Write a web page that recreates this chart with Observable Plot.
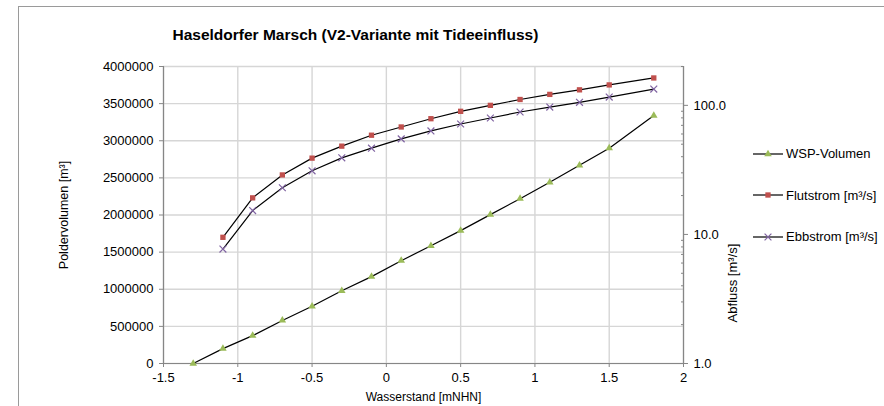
<!DOCTYPE html>
<html>
<head>
<meta charset="utf-8">
<script src="https://cdn.jsdelivr.net/npm/d3@7"></script>
<script src="https://cdn.jsdelivr.net/npm/@observablehq/plot@0.6"></script>
<style>
  html, body { margin: 0; padding: 0; background: #fff; overflow: hidden; }
  #wrap { position: relative; width: 884px; height: 406px; overflow: hidden; font-family: "Liberation Sans", Arial, sans-serif; }
  #wrap svg { position: absolute; left: 0; top: 0; }
  #border { position: absolute; left: 18px; top: 6px; width: 1000px; height: 1000px; border-left: 1.5px solid #9a9a9a; border-top: 1.5px solid #9a9a9a; }
  #legend { position: absolute; left: 753px; top: 133px; font-size: 13px; color: #000; }
  #legend .row { display: flex; align-items: center; height: 41.5px; }
  #legend .row svg { position: static; margin-right: 3px; }
</style>
</head>
<body>
<div id="wrap"><div id="border"></div></div>
<script>
// ---- data ----
const titleText = "Haseldorfer Marsch (V2-Variante mit Tideeinfluss)";
const xLabel = "Wasserstand [mNHN]";
const yLeftLabel = "Poldervolumen [m³]";
const yRightLabel = "Abfluss [m³/s]";

const xTicks = [-1.5, -1, -0.5, 0, 0.5, 1, 1.5, 2];
const yLeftTicks = [0, 500000, 1000000, 1500000, 2000000, 2500000, 3000000, 3500000, 4000000];
const yRightTicks = [1, 10, 100];
const yRightMinor = [2, 3, 4, 5, 6, 7, 8, 9, 20, 30, 40, 50, 60, 70, 80, 90, 200];

const wspX = [-1.3, -1.1, -0.9, -0.7, -0.5, -0.3, -0.1, 0.1, 0.3, 0.5, 0.7, 0.9, 1.1, 1.3, 1.5, 1.8];
const wspVolumen = [0, 200000, 375000, 580000, 770000, 980000, 1170000, 1385000, 1585000, 1790000, 2005000, 2220000, 2440000, 2670000, 2900000, 3340000];

const flowX = [-1.1, -0.9, -0.7, -0.5, -0.3, -0.1, 0.1, 0.3, 0.5, 0.7, 0.9, 1.1, 1.3, 1.5, 1.8];
const flutstrom = [9.5, 19.2, 28.9, 39.0, 48.3, 58.7, 68.0, 78.8, 89.9, 100, 111, 121.6, 131.9, 144, 163];
const ebbstrom = [7.7, 15.3, 23.0, 31.1, 39.2, 46.6, 55.0, 63.4, 71.7, 79.8, 88.8, 97.0, 105.5, 115.9, 133.6];

const seriesNames = ["WSP-Volumen", "Flutstrom [m³/s]", "Ebbstrom [m³/s]"];
const seriesColors = ["#9bbb59", "#c0504d", "#8064a2"];
const seriesSymbols = ["triangle", "square", "times"];

// ---- tables ----
const wspData = wspX.map((x, i) => ({x, y: wspVolumen[i]}));
const flutData = flowX.map((x, i) => ({x, y: flutstrom[i]}));
const ebbData = flowX.map((x, i) => ({x, y: ebbstrom[i]}));

const W = 884, H = 406;
const margins = {marginLeft: 163, marginRight: 201, marginTop: 66, marginBottom: 43};
const font = "'Liberation Sans', Arial, sans-serif";
const axisGray = "#868686";
const gridGray = "#d6d6d6";

const plotLeft = Plot.plot({
  width: W, height: H, ...margins,
  style: {fontFamily: font, fontSize: "13px", background: "transparent", color: "#000"},
  x: {domain: [-1.5, 2]},
  y: {domain: [0, 4000000]},
  marks: [
    Plot.gridX(xTicks, {stroke: gridGray, strokeOpacity: 1, strokeWidth: 1.4}),
    Plot.gridY(yLeftTicks, {stroke: gridGray, strokeOpacity: 1, strokeWidth: 1.4}),
    Plot.axisX(xTicks, {tickSize: 4, tickPadding: 5, stroke: axisGray, tickFormat: d => String(d), label: null}),
    Plot.axisX({label: xLabel, labelAnchor: "center", labelOffset: 37, labelArrow: "none", ticks: [], fontSize: 12}),
    Plot.axisY(yLeftTicks, {tickSize: 4, tickPadding: 6, stroke: axisGray, tickFormat: d => String(d), label: null}),
    Plot.axisY({label: yLeftLabel, labelAnchor: "center", labelOffset: 104, labelArrow: "none", ticks: [], fontSize: 12.5}),
    Plot.ruleX([-1.5], {stroke: axisGray, strokeWidth: 1.2}),
    Plot.ruleY([0], {stroke: axisGray, strokeWidth: 1.2}),
    Plot.line(wspData, {x: "x", y: "y", stroke: "#000", strokeWidth: 1.2}),
    Plot.dot(wspData, {x: "x", y: "y", symbol: seriesSymbols[0], fill: seriesColors[0], r: 2.8}),
    Plot.text([titleText], {frameAnchor: "top-left", dx: 9, dy: -31, textAnchor: "start", lineAnchor: "middle",
      fontWeight: "bold", fontSize: 15.5})
  ]
});

const plotRight = Plot.plot({
  width: W, height: H, ...margins,
  style: {fontFamily: font, fontSize: "13px", background: "transparent", color: "#000"},
  x: {domain: [-1.5, 2], axis: null},
  y: {type: "log", domain: [1, 200], axis: null},
  marks: [
    Plot.axisY(yRightTicks, {anchor: "right", tickSize: 4, tickPadding: 6, stroke: axisGray,
      tickFormat: d3.format(".1f"), label: null}),
    Plot.axisY(yRightMinor, {anchor: "right", tickSize: -3, stroke: axisGray,
      tickFormat: () => "", label: null}),
    Plot.ruleX([2], {stroke: axisGray, strokeWidth: 1.2}),
    Plot.line(flutData, {x: "x", y: "y", stroke: "#000", strokeWidth: 1.2}),
    Plot.line(ebbData, {x: "x", y: "y", stroke: "#000", strokeWidth: 1.2}),
    Plot.dot(flutData, {x: "x", y: "y", symbol: seriesSymbols[1], fill: seriesColors[1], r: 3}),
    Plot.dot(ebbData, {x: "x", y: "y", symbol: seriesSymbols[2], stroke: seriesColors[2], strokeWidth: 1.2, r: 3.2}),
    Plot.text([yRightLabel], {frameAnchor: "right", dx: 49, dy: 68, rotate: -90, textAnchor: "middle",
      lineAnchor: "middle", fontSize: 13})
  ]
});

const wrap = document.getElementById("wrap");
wrap.appendChild(plotLeft);
wrap.appendChild(plotRight);

// ---- legend ----
const legend = document.createElement("div");
legend.id = "legend";
const symMap = {triangle: d3.symbolTriangle, square: d3.symbolSquare, times: d3.symbolTimes};
const symR = [2.8, 3, 3.2];
seriesNames.forEach((name, i) => {
  const row = document.createElement("div");
  row.className = "row";
  const s = d3.create("svg").attr("width", 30).attr("height", 12);
  s.append("line").attr("x1", 0).attr("x2", 30).attr("y1", 6).attr("y2", 6).attr("stroke", "#000").attr("stroke-width", 1.2);
  const p = d3.symbol(symMap[seriesSymbols[i]], Math.PI * symR[i] * symR[i])();
  const path = s.append("path").attr("d", p).attr("transform", "translate(15,6)");
  if (seriesSymbols[i] === "times") path.attr("fill", "none").attr("stroke", seriesColors[i]).attr("stroke-width", 1.2);
  else path.attr("fill", seriesColors[i]);
  row.appendChild(s.node());
  const t = document.createElement("span");
  t.textContent = name;
  row.appendChild(t);
  legend.appendChild(row);
});
wrap.appendChild(legend);
</script>
</body>
</html>
